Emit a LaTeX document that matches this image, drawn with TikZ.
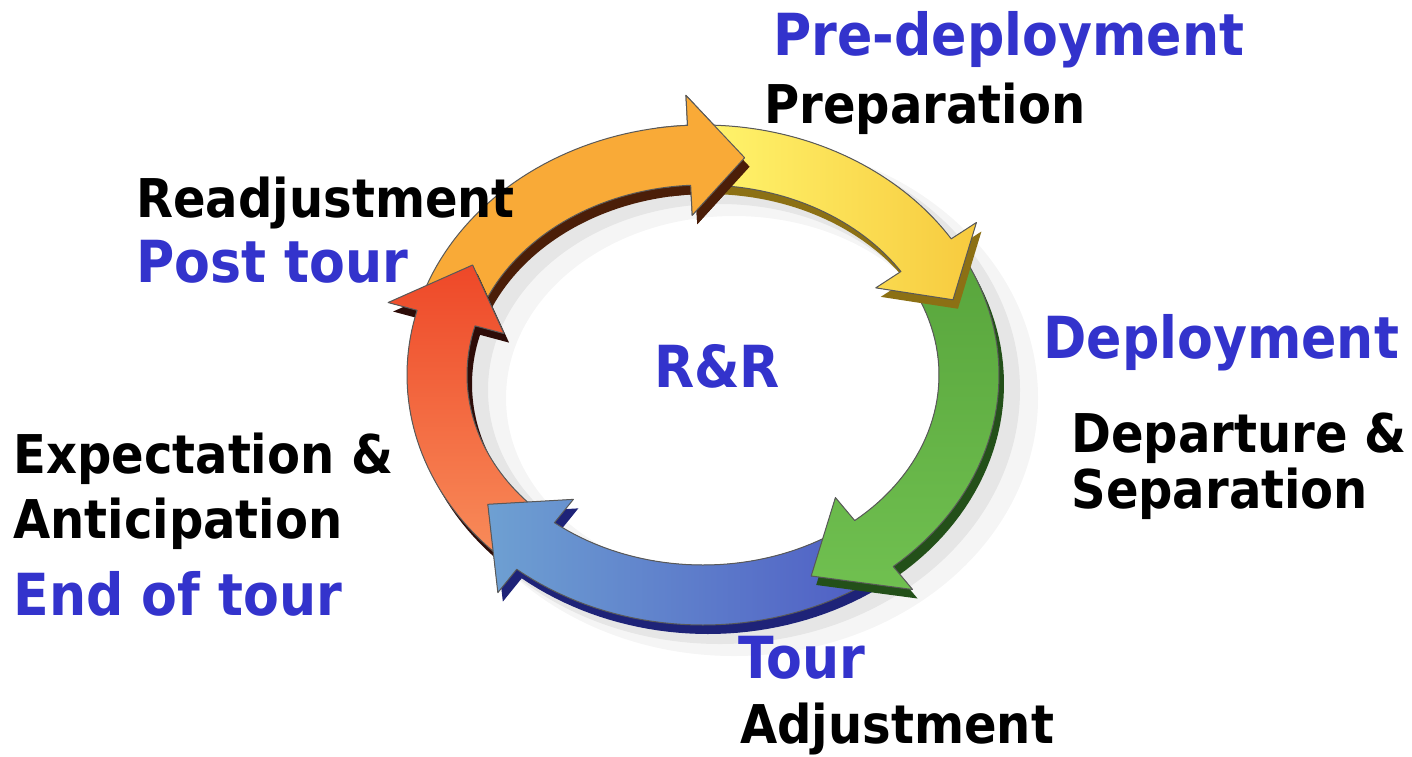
\documentclass[tikz,border=0pt]{standalone}
\usepackage{fontspec}
\newfontfamily\labelfont{DejaVu Sans Condensed Bold}
\usetikzlibrary{positioning}

\definecolor{labelblue}{RGB}{51,51,204}
\definecolor{yellowA}{RGB}{255,244,108}
\definecolor{yellowB}{RGB}{247,202,62}
\definecolor{yellowside}{RGB}{140,112,20}
\definecolor{greenA}{RGB}{88,165,60}
\definecolor{greenB}{RGB}{112,192,80}
\definecolor{greenside}{RGB}{35,80,25}
\definecolor{blueA}{RGB}{110,160,210}
\definecolor{blueB}{RGB}{78,92,196}
\definecolor{blueside}{RGB}{30,35,120}
\definecolor{redA}{RGB}{238,72,40}
\definecolor{redB}{RGB}{248,140,90}
\definecolor{redside}{RGB}{45,12,8}
\definecolor{orangeface}{RGB}{249,170,55}
\definecolor{orangeside}{RGB}{75,30,8}

\tikzset{
  blacklabel/.style={font=\labelfont\fontsize{26.7}{30}\selectfont, text=black, inner sep=0pt},
  bluelabel/.style={font=\labelfont\fontsize{29}{34}\selectfont, text=labelblue, inner sep=0pt},
  arrowface/.style={draw=black!65, line width=0.5pt, line join=round},
}

% ring piece: start angle, head base angle, tip angle
\newcommand\ringpath[3]{plot[domain=#1:#2, samples=40] ({703+296*cos(\x)},{375+250*sin(\x)})
  -- ({703+326*cos(#2)},{375+280*sin(#2)}) -- ({703+266*cos(#3)},{375+220*sin(#3)})
  -- ({703+206*cos(#2)},{375+160*sin(#2)})
  -- plot[domain=#2:#1, samples=40] ({703+236*cos(\x)},{375+190*sin(\x)})}
\newcommand\ringarrow[5]{%
  \fill[#5, shift={(5,9)}] \ringpath{#1}{#2}{#3};
  \filldraw[arrowface, #4] \ringpath{#1}{#2}{#3};
}

\begin{document}
\begin{tikzpicture}[x=0.5pt, y=-0.5pt]
  \fill[white] (0,0) rectangle (1412,756);
  \useasboundingbox (0,0) rectangle (1412,756);

  % Shadow
  \fill[black, opacity=0.06, even odd rule] (720,390) ellipse [x radius=300, y radius=254]
    (720,390) ellipse [x radius=232, y radius=186];
  \fill[black, opacity=0.04, even odd rule] (734,398) ellipse [x radius=304, y radius=258]
    (734,398) ellipse [x radius=228, y radius=182];

  % Arrows
  \ringarrow{199}{267}{279}{fill=orangeface}{orangeside}
  \ringarrow{133}{195}{210}{top color=redA, bottom color=redB}{redside}
  \ringarrow{53}{129}{144}{left color=blueA, right color=blueB}{blueside}
  \ringarrow{-29}{50}{66}{top color=greenA, bottom color=greenB}{greenside}
  \ringarrow{-89}{-33}{-20}{left color=yellowA, right color=yellowB}{yellowside}
  \ringarrow{261}{267}{279}{fill=orangeface}{orangeside}

  % Nodes
  \node[bluelabel, anchor=center] (rr) at (717,366) {R\&R};

  \node[bluelabel, anchor=base west] (predeploy) at (773,55) {Pre-deployment};
  \node[blacklabel, anchor=base west] (prep) at (764,123) {Preparation};

  \node[bluelabel, anchor=base west] (deploy) at (1043,358) {Deployment};
  \node[blacklabel, anchor=base west] (depart) at (1071,452) {Departure \&};
  \node[blacklabel, anchor=base west] (separ) at (1071,508) {Separation};

  \node[bluelabel, anchor=base west] (tour) at (738,678) {Tour};
  \node[blacklabel, anchor=base west] (adjust) at (740,743) {Adjustment};

  \node[blacklabel, anchor=base west] (expect) at (13,473) {Expectation \&};
  \node[blacklabel, anchor=base west] (anticip) at (13,538) {Anticipation};
  \node[bluelabel, anchor=base west] (endtour) at (13,615) {End of tour};

  \node[blacklabel, anchor=base west] (readjust) at (136,217) {Readjustment};
  \node[bluelabel, anchor=base west] (posttour) at (136,282) {Post tour};
\end{tikzpicture}
\end{document}
